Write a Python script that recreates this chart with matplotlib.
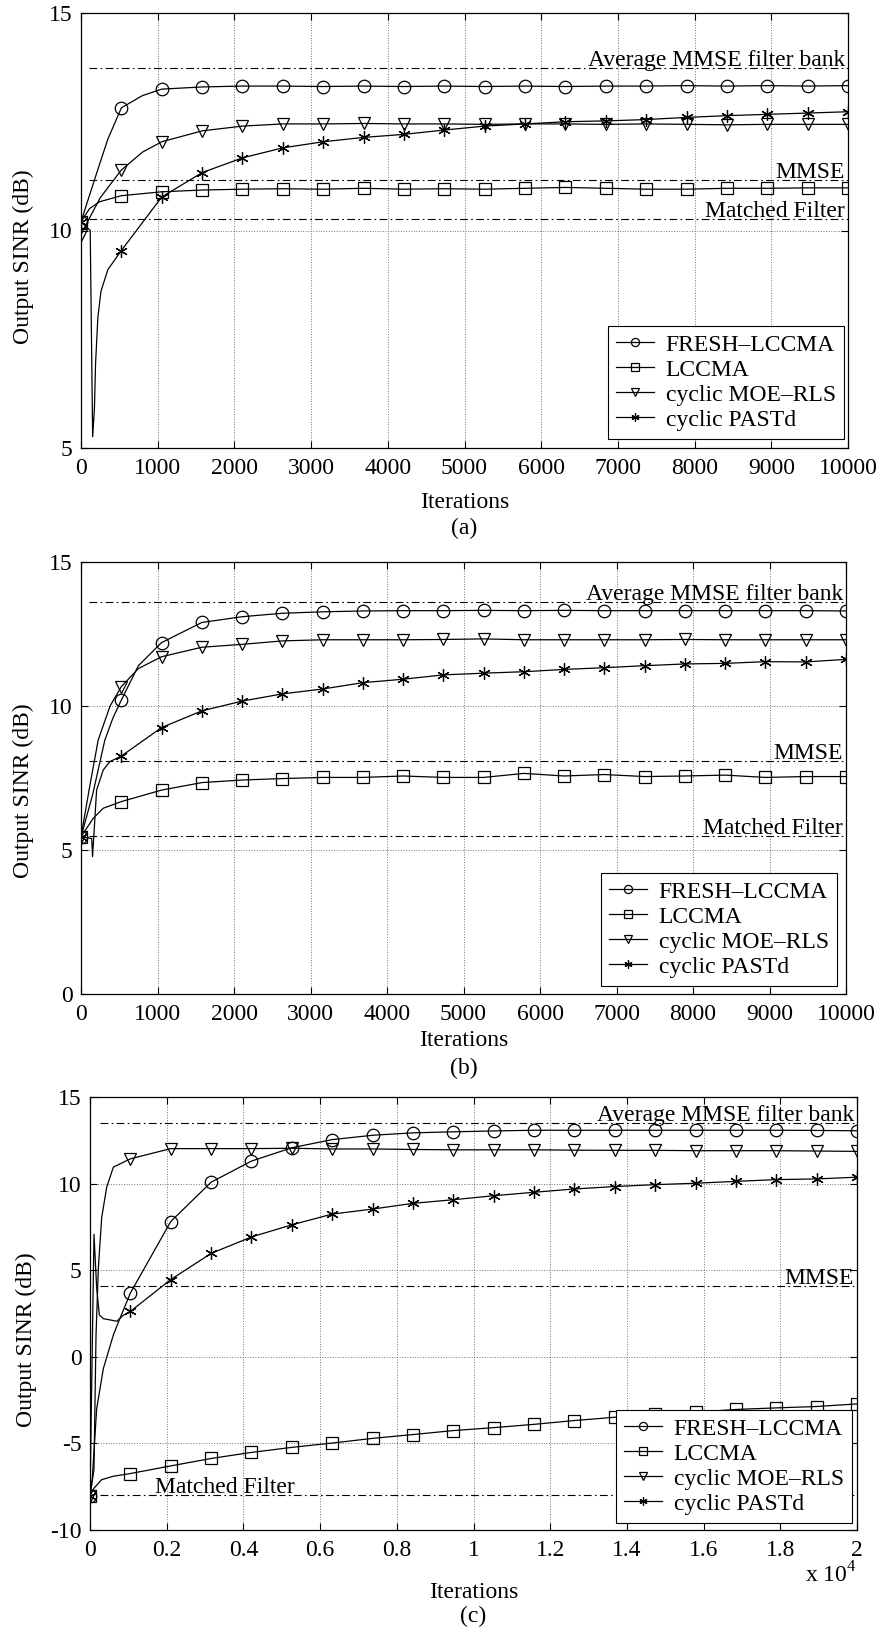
import numpy as np
import matplotlib
matplotlib.use('Agg')
import matplotlib.pyplot as plt

plt.rcParams['font.family'] = ['Liberation Serif', 'DejaVu Serif']
plt.rcParams['font.size'] = 17
plt.rcParams['axes.unicode_minus'] = False
plt.rcParams['mathtext.fontset'] = 'custom'
plt.rcParams['mathtext.rm'] = 'Liberation Serif'

labels = ['FRESH–LCCMA', 'LCCMA', 'cyclic MOE–RLS', 'cyclic PASTd']
markers = ['o', 's', 'v', (6, 2, 0)]

# ---- panel (a): 10000 iterations, markers every 10000/19
a_x = np.linspace(0, 10000, 20)
a_fresh = [10.2, 12.82, 13.25, 13.3, 13.32, 13.32, 13.31, 13.32, 13.31, 13.32,
           13.31, 13.32, 13.31, 13.32, 13.32, 13.33, 13.32, 13.33, 13.32, 13.33]
a_lccma = [10.2, 10.8, 10.89, 10.93, 10.95, 10.96, 10.95, 10.97, 10.95, 10.96,
           10.95, 10.97, 10.99, 10.97, 10.95, 10.95, 10.97, 10.97, 10.98, 10.98]
a_moe = [9.9, 11.39, 12.04, 12.29, 12.4, 12.45, 12.45, 12.46, 12.45, 12.45,
         12.44, 12.45, 12.45, 12.44, 12.45, 12.44, 12.43, 12.44, 12.44, 12.44]
a_past = [10.2, 9.54, 10.77, 11.33, 11.67, 11.9, 12.04, 12.14, 12.21, 12.31,
          12.4, 12.45, 12.5, 12.52, 12.55, 12.6, 12.64, 12.67, 12.7, 12.73]
# extra points
a_fresh_ex = ([100, 210, 350, 800], [10.75, 11.35, 12.1, 13.1])
a_lccma_ex = ([110, 240], [10.5, 10.66])
a_moe_ex = ([100, 250, 400, 800], [10.25, 10.75, 11.1, 11.8])
a_past_ex = ([120, 152, 175, 190, 220, 260, 350], [10.0, 5.26, 5.9, 6.95, 8.0, 8.6, 9.1])
a_refs = [13.74, 11.16, 10.26]

# ---- panel (b)
b_x = np.linspace(0, 10000, 20)
b_fresh = [5.46, 10.2, 12.2, 12.9, 13.1, 13.22, 13.27, 13.3, 13.31, 13.31,
           13.32, 13.31, 13.32, 13.31, 13.31, 13.31, 13.31, 13.31, 13.31, 13.3]
b_lccma = [5.46, 6.68, 7.08, 7.34, 7.43, 7.48, 7.52, 7.52, 7.57, 7.52,
           7.52, 7.66, 7.57, 7.62, 7.55, 7.57, 7.6, 7.52, 7.55, 7.55]
b_moe = [5.46, 10.67, 11.71, 12.04, 12.14, 12.26, 12.3, 12.3, 12.3, 12.31,
         12.33, 12.3, 12.3, 12.3, 12.3, 12.31, 12.3, 12.3, 12.3, 12.3]
b_past = [5.46, 8.26, 9.25, 9.83, 10.17, 10.42, 10.59, 10.81, 10.93, 11.08,
          11.14, 11.19, 11.27, 11.33, 11.4, 11.46, 11.48, 11.54, 11.53, 11.62]
b_fresh_ex = ([150, 312, 420, 750], [6.9, 8.82, 9.6, 11.4])
b_lccma_ex = ([160, 291], [6.1, 6.45])
b_moe_ex = ([120, 225, 380, 750], [7.3, 8.82, 10.0, 11.3])
b_past_ex = ([140, 151, 204, 291, 378], [5.4, 4.77, 7.08, 7.78, 8.07])
b_refs = [13.62, 8.09, 5.49]

# ---- panel (c): 20000 iterations
c_x = np.linspace(0, 20000, 20)
c_fresh = [-8.04, 3.68, 7.81, 10.08, 11.3, 12.07, 12.54, 12.79, 12.93, 12.99,
           13.04, 13.08, 13.08, 13.08, 13.08, 13.08, 13.08, 13.08, 13.07, 13.05]
c_lccma = [-8.04, -6.74, -6.3, -5.87, -5.52, -5.23, -4.98, -4.71, -4.49, -4.26,
           -4.09, -3.9, -3.68, -3.49, -3.33, -3.2, -3.04, -2.95, -2.87, -2.72]
c_moe = [-8.04, 11.43, 12.02, 12.02, 12.02, 12.04, 12.0, 12.0, 11.97, 11.95,
         11.95, 11.95, 11.93, 11.92, 11.92, 11.9, 11.9, 11.9, 11.88, 11.86]
c_past = [-8.04, 2.62, 4.46, 5.97, 6.92, 7.62, 8.24, 8.53, 8.86, 9.07,
          9.3, 9.5, 9.69, 9.83, 9.94, 10.02, 10.13, 10.23, 10.27, 10.37]
c_fresh_ex = ([60, 130, 174, 348, 609, 783], [-7.0, -4.55, -3.0, -0.68, 1.26, 2.23])
c_lccma_ex = ([100, 300, 600], [-7.6, -7.1, -6.9])
c_moe_ex = ([104, 157, 218, 305, 435, 609], [-6.5, 1.26, 5.13, 8.04, 9.79, 10.95])
c_past_ex = ([104, 174, 244, 348, 522, 700, 870], [7.07, 3.97, 2.42, 2.2, 2.13, 2.05, 2.4])
c_refs = [13.47, 4.1, -8.0]
c_xticks = [0, 2000, 4000, 6000, 8000, 10000, 12000, 14000, 16000, 18000, 20000]
c_xticklabels = ['0', '0.2', '0.4', '0.6', '0.8', '1', '1.2', '1.4', '1.6', '1.8', '2']

ref_names = ['Average MMSE filter bank', 'MMSE', 'Matched Filter']


def curve(xm, ym, extra):
    x = np.concatenate([xm, extra[0]])
    y = np.concatenate([ym, extra[1]])
    order = np.argsort(x, kind='stable')
    idx = [int(np.where(order == i)[0][0]) for i in range(len(xm))]
    return x[order], y[order], idx


def panel(ax, xm, series, extras, refs, xmax, ylim, yticks, ref_start, mf_left=False):
    for ys, ex, lab, m in zip(series, extras, labels, markers):
        x, y, idx = curve(xm, ys, ex)
        ax.plot(x, y, color='k', lw=0.9, marker=m, markevery=idx, ms=9,
                mfc='none', mec='k', mew=0.9, label=lab, zorder=3)
    for k, (r, name) in enumerate(zip(refs, ref_names)):
        ax.plot([ref_start, xmax], [r, r], color='k', lw=0.8,
                ls=(0, (7, 3, 1.5, 3)), zorder=2)
        if mf_left and k == 2:
            ax.annotate(name, (0.085 * xmax, r), xytext=(0, 1.5),
                        textcoords='offset points', ha='left', va='baseline')
        else:
            ax.annotate(name, (xmax, r), xytext=(-2, 1.5),
                        textcoords='offset points', ha='right', va='baseline')
    ax.set_xlim(0, xmax)
    ax.set_ylim(*ylim)
    ax.set_yticks(yticks)
    ax.grid(True, ls=':', lw=0.7, color='0.45')
    ax.set_axisbelow(True)
    ax.tick_params(direction='in', top=True, right=True, length=5, width=0.8)
    ax.tick_params(axis='x', pad=7)
    ax.tick_params(axis='y', pad=6)
    for s in ax.spines.values():
        s.set_linewidth(0.9)
    ax.set_ylabel('Output SINR (dB)')


fig = plt.figure(figsize=(8.8, 16.28), dpi=100)
W, H = 880.0, 1628.0


def box(l, r, t, b):
    return [l / W, 1 - b / H, (r - l) / W, (b - t) / H]


ax_a = fig.add_axes(box(81, 848, 13, 448))
ax_b = fig.add_axes(box(81, 846, 562, 994))
ax_c = fig.add_axes(box(90, 857, 1097, 1530))

panel(ax_a, a_x, [a_fresh, a_lccma, a_moe, a_past],
      [a_fresh_ex, a_lccma_ex, a_moe_ex, a_past_ex], a_refs, 10000, (5, 15), [5, 10, 15], 100)
panel(ax_b, b_x, [b_fresh, b_lccma, b_moe, b_past],
      [b_fresh_ex, b_lccma_ex, b_moe_ex, b_past_ex], b_refs, 10000, (0, 15), [0, 5, 10, 15], 100)
panel(ax_c, c_x, [c_fresh, c_lccma, c_moe, c_past],
      [c_fresh_ex, c_lccma_ex, c_moe_ex, c_past_ex], c_refs, 20000, (-10, 15),
      [-10, -5, 0, 5, 10, 15], 250, mf_left=True)

ax_a.set_xticks(np.arange(0, 10001, 1000))
ax_b.set_xticks(np.arange(0, 10001, 1000))
ax_c.set_xticks(c_xticks)
ax_c.set_xticklabels(c_xticklabels)

for ax, gx, gy, ylab_y in [(ax_a, 4, 9, 0.44), (ax_b, 9, 8, 0.47), (ax_c, 5, 7, 0.44)]:
    bb = ax.get_position()
    wpx, hpx = bb.width * W, bb.height * H
    leg = ax.legend(loc='lower right', bbox_to_anchor=(1 - gx / wpx, gy / hpx),
                    borderaxespad=0, fancybox=False, framealpha=1, edgecolor='k',
                    handlelength=1.6, handletextpad=0.5, labelspacing=0.15,
                    borderpad=0.35, markerscale=0.65)
    leg.get_frame().set_linewidth(0.8)
    leg.set_zorder(5)
    ax.yaxis.set_label_coords(-0.061 if ax is not ax_c else -0.069, ylab_y)

# x labels and captions (pixel centers)
for ax, bottom, it_y, cap_y, cap in [(ax_a, 448, 502, 528, '(a)'),
                                     (ax_b, 994, 1040, 1068, '(b)'),
                                     (ax_c, 1530, 1592, 1616, '(c)')]:
    bb = ax.get_position()
    hpx = bb.height * H
    ax.set_xlabel('Iterations')
    ax.xaxis.label.set_va('center')
    ax.xaxis.set_label_coords(0.5, (bottom - it_y) / hpx)
    ax.text(0.5, (bottom - cap_y) / hpx, cap, transform=ax.transAxes,
            ha='center', va='center')

bb = ax_c.get_position()
ax_c.text(1.0, (1530 - 1575) / (bb.height * H), r'x 10$^{\mathrm{4}}$',
          transform=ax_c.transAxes, ha='right', va='center')

fig.savefig('out.png', dpi=100)
